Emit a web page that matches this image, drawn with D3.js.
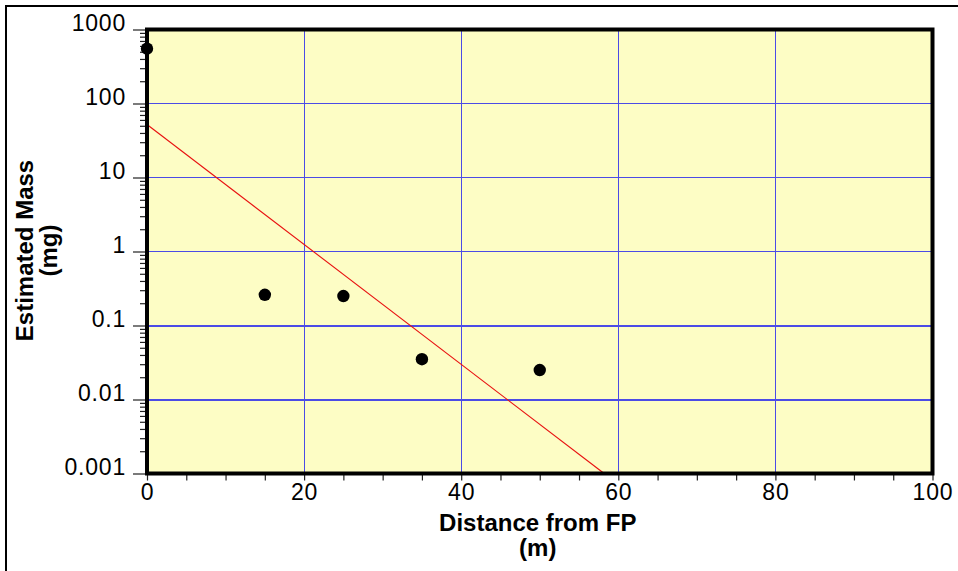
<!DOCTYPE html>
<html>
<head>
<meta charset="utf-8">
<script src="https://cdn.jsdelivr.net/npm/d3@7"></script>
<style>
  html, body { margin: 0; padding: 0; background: #ffffff; }
  svg { display: block; }
  .tick text { font-family: "Liberation Sans", Arial, sans-serif; }
</style>
</head>
<body>
<svg id="chart" width="958" height="571"></svg>
<script>
// Measured samples: distance from FP (m) and estimated mass (mg)
const distance = [0, 15, 25, 35, 50];
const mass = [550, 0.26, 0.25, 0.035, 0.025];

// Exponential fit, drawn as a straight segment on the log axis
const fitDistance = [0, 58.2];
const fitMass = [52, 0.001];

// Axis ticks and labels
const xTicks = [0, 20, 40, 60, 80, 100];
const xMinorTicks = [5, 10, 15, 25, 30, 35, 45, 50, 55, 65, 70, 75, 85, 90, 95];
const yTicks = [0.001, 0.01, 0.1, 1, 10, 100, 1000];
const yTickLabels = ["0.001", "0.01", "0.1", "1", "10", "100", "1000"];
const xGrid = [20, 40, 60, 80];
const yGrid = [0.01, 0.1, 1, 10, 100];

const xTitle = ["Distance from FP", "(m)"];
const yTitle = ["Estimated Mass", "(mg)"];

const svg = d3.select("#chart");
const plot = { left: 147, top: 29.5, right: 932.5, bottom: 473.5 };

const x = d3.scaleLinear().domain([0, 100]).range([plot.left, plot.right]);
const y = d3.scaleLog().domain([0.001, 1000]).range([plot.bottom, plot.top]);

// Outer frame (runs off the right and bottom edges)
svg.append("rect")
  .attr("x", 6).attr("y", 6).attr("width", 1100).attr("height", 1100)
  .attr("fill", "none").attr("stroke", "#000").attr("stroke-width", 2);

// Plot background
svg.append("rect")
  .attr("x", plot.left).attr("y", plot.top)
  .attr("width", plot.right - plot.left).attr("height", plot.bottom - plot.top)
  .attr("fill", "#fdfdc5");

// Grid lines (the sub-unit decades are drawn a little heavier)
const grid = svg.append("g")
  .attr("stroke", "#4b4be6")
  .attr("shape-rendering", "crispEdges");
grid.selectAll("line.v").data(xGrid).join("line")
  .attr("class", "v")
  .attr("stroke-width", 1)
  .attr("x1", d => Math.round(x(d)) + 0.5).attr("x2", d => Math.round(x(d)) + 0.5)
  .attr("y1", plot.top).attr("y2", plot.bottom);
grid.selectAll("line.h").data(yGrid).join("line")
  .attr("class", "h")
  .attr("stroke-width", d => d < 1 ? 2 : 1)
  .attr("x1", plot.left).attr("x2", plot.right)
  .attr("y1", d => y(d)).attr("y2", d => y(d));

// Fit line
svg.append("line")
  .attr("x1", x(fitDistance[0])).attr("y1", y(fitMass[0]))
  .attr("x2", x(fitDistance[1])).attr("y2", y(fitMass[1]))
  .attr("stroke", "#e81010").attr("stroke-width", 1.1);

// Y axis: major ticks with labels, minor ticks 2..9 in each decade
const yMinor = [];
for (let e = -3; e < 3; e++) {
  for (let m = 2; m <= 9; m++) yMinor.push(m * Math.pow(10, e));
}
const yAxisMinor = svg.append("g")
  .attr("transform", `translate(${plot.left},0)`)
  .call(d3.axisLeft(y).tickValues(yMinor).tickSize(7).tickFormat(""));
yAxisMinor.select(".domain").remove();
yAxisMinor.selectAll("line").attr("stroke", "#222").attr("stroke-width", 1.2);

const yAxis = svg.append("g")
  .attr("transform", `translate(${plot.left},0)`)
  .call(d3.axisLeft(y).tickValues(yTicks).tickSize(14).tickPadding(7)
    .tickFormat((d, i) => yTickLabels[i]));
yAxis.select(".domain").remove();
yAxis.selectAll("line").attr("stroke", "#222").attr("stroke-width", 1.2);
yAxis.selectAll("text")
  .attr("font-size", 23).attr("fill", "#000")
  .attr("dy", "0.05em").attr("letter-spacing", 0.8);

// X axis
const xAxisMinor = svg.append("g")
  .attr("transform", `translate(0,${plot.bottom})`)
  .call(d3.axisBottom(x).tickValues(xMinorTicks).tickSize(7).tickFormat(""));
xAxisMinor.select(".domain").remove();
xAxisMinor.selectAll("line").attr("stroke", "#222").attr("stroke-width", 1.2);

const xAxis = svg.append("g")
  .attr("transform", `translate(0,${plot.bottom})`)
  .call(d3.axisBottom(x).tickValues(xTicks).tickSize(7).tickPadding(3)
    .tickFormat(d3.format("d")));
xAxis.select(".domain").remove();
xAxis.selectAll("line").attr("stroke", "#222").attr("stroke-width", 1.2);
xAxis.selectAll("text")
  .attr("font-size", 23).attr("fill", "#000").attr("letter-spacing", 0.8);

// Plot border
svg.append("rect")
  .attr("x", plot.left).attr("y", plot.top)
  .attr("width", plot.right - plot.left).attr("height", plot.bottom - plot.top)
  .attr("fill", "none").attr("stroke", "#000").attr("stroke-width", 4);

// Data points
svg.append("g").selectAll("circle")
  .data(distance.map((d, i) => ({ d, m: mass[i] })))
  .join("circle")
  .attr("cx", p => x(p.d)).attr("cy", p => y(p.m))
  .attr("r", 6.2).attr("fill", "#000");

// Axis titles
const titleFont = "'Liberation Sans', Arial, sans-serif";
const titleSize = 24;
const cx = (plot.left + plot.right) / 2 - 2;
svg.append("text")
  .attr("x", cx).attr("y", 531)
  .attr("text-anchor", "middle").attr("font-family", titleFont)
  .attr("font-weight", "bold").attr("font-size", titleSize)
  .text(xTitle[0]);
svg.append("text")
  .attr("x", cx).attr("y", 556)
  .attr("text-anchor", "middle").attr("font-family", titleFont)
  .attr("font-weight", "bold").attr("font-size", titleSize)
  .text(xTitle[1]);

const cy = (plot.top + plot.bottom) / 2 - 1;
svg.append("text")
  .attr("transform", `translate(32.5,${cy}) rotate(-90)`)
  .attr("text-anchor", "middle").attr("font-family", titleFont)
  .attr("font-weight", "bold").attr("font-size", titleSize)
  .text(yTitle[0]);
svg.append("text")
  .attr("transform", `translate(56.5,${cy}) rotate(-90)`)
  .attr("text-anchor", "middle").attr("font-family", titleFont)
  .attr("font-weight", "bold").attr("font-size", titleSize)
  .text(yTitle[1]);
</script>
</body>
</html>
